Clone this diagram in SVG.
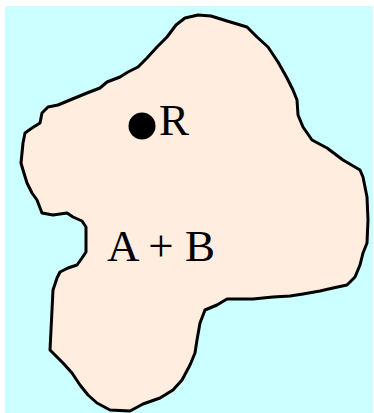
<svg xmlns="http://www.w3.org/2000/svg" width="374" height="413" viewBox="0 0 374 413">
<style>
.bg{fill:#ccffff}
.blob{fill:#ffeee0;stroke:#000;stroke-width:3;stroke-linejoin:round}
.lbl{font-family:"Liberation Serif","Times New Roman",serif;font-size:45px;fill:#000}
</style>
<rect width="374" height="413" fill="#ffffff"/>
<rect class="bg" x="5" y="6" width="368" height="407"/>
<g id="region">
<path class="blob" d="M176,25 L185,18 L198,15 L211,16 L227,21 L247,27 L257,37 L268,47 L278,62 L287,78 L293,90 L297,100 L298,115 L303,127 L312,140 L327,148 L343,160 L360,170 L363,177 L367,197 L368,220 L367,243 L363,253 L360,265 L355,277 L347,285 L333,288 L320,291 L303,294 L290,296 L273,297 L253,299 L227,299 L217,305 L205,310 L200,323 L197,340 L195,353 L190,365 L182,380 L173,390 L160,398 L143,404 L130,411 L110,410 L97,403 L88,395 L80,385 L72,373 L63,363 L57,357 L50,350 L52,310 L53,290 L57,278 L60,272 L68,268 L77,265 L82,258 L86,252 L86,227 L82,221 L73,217 L67,213 L53,215 L42,213 L37,200 L32,193 L27,183 L23,170 L21,163 L23,143 L25,133 L32,128 L40,123 L42,113 L48,107 L58,105 L70,100 L87,93 L100,88 L107,82 L120,77 L128,72 L138,67 L147,58 L157,47 L167,37 Z"/>
</g>
<g id="R">
<circle cx="142" cy="126" r="13.5" fill="#000"/>
<text class="lbl" x="159" y="135">R</text>
</g>
<g id="AB">
<text class="lbl" x="107" y="261">A + B</text>
</g>
<g id="connectors"/>
</svg>
